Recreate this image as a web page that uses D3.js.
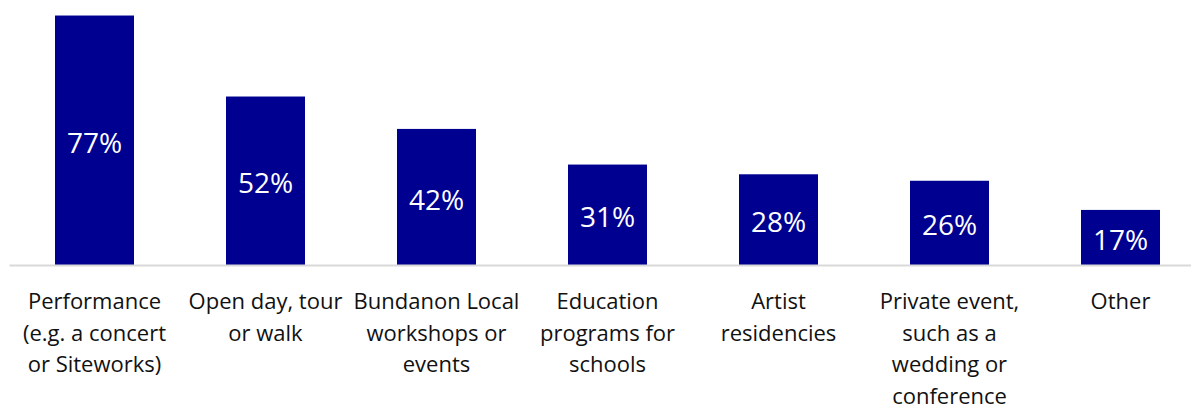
<!DOCTYPE html>
<html>
<head>
<meta charset="utf-8">
<script src="https://cdn.jsdelivr.net/npm/d3@7"></script>
<style>
  html, body { margin: 0; padding: 0; background: #fff; }
  svg { display: block; }
</style>
</head>
<body>
<svg id="chart" width="1191" height="405"></svg>
<script>
const categories = [
  "Performance (e.g. a concert or Siteworks)",
  "Open day, tour or walk",
  "Bundanon Local workshops or events",
  "Education programs for schools",
  "Artist residencies",
  "Private event, such as a wedding or conference",
  "Other"
];
const tickLines = [
  ["Performance", "(e.g. a concert", "or Siteworks)"],
  ["Open day, tour", "or walk"],
  ["Bundanon Local", "workshops or", "events"],
  ["Education", "programs for", "schools"],
  ["Artist", "residencies"],
  ["Private event,", "such as a", "wedding or", "conference"],
  ["Other"]
];
const values = [77, 52, 42, 31, 28, 26, 17];

const svg = d3.select("#chart");
const baseY = 265;
const x = d3.scaleBand().domain(categories).range([9, 1206]).paddingInner(0.538).paddingOuter(0.269);
const y = d3.scaleLinear().domain([0, 80]).range([baseY, baseY - 80 * 3.24]);

svg.selectAll("rect.bar").data(values).join("rect")
  .attr("class", "bar")
  .attr("x", (d, i) => x(categories[i]))
  .attr("y", d => y(d))
  .attr("width", x.bandwidth())
  .attr("height", d => y(0) - y(d))
  .attr("fill", "#000090");

svg.selectAll("text.val").data(values).join("text")
  .attr("class", "val")
  .attr("x", (d, i) => x(categories[i]) + x.bandwidth() / 2)
  .attr("y", d => (y(d) + y(0)) / 2)
  .attr("dy", "0.45em")
  .attr("text-anchor", "middle")
  .attr("font-family", "'Open Sans', sans-serif")
  .attr("font-size", 28)
  .attr("fill", "#fff")
  .text(d => d + "%");

// axis
const axis = d3.axisBottom(x).tickSize(0).tickFormat("");
const ag = svg.append("g").attr("transform", `translate(0,${baseY})`).call(axis);
ag.select(".domain").attr("stroke", "#d9d9d9").attr("stroke-width", 2);

const lab = svg.selectAll("text.cat").data(categories).join("text")
  .attr("class", "cat")
  .attr("text-anchor", "middle")
  .attr("font-family", "'Open Sans', sans-serif")
  .attr("font-size", 22)
  .attr("fill", "#111");
lab.each(function(d, i) {
  const cx = x(d) + x.bandwidth() / 2;
  d3.select(this).selectAll("tspan").data(tickLines[i]).join("tspan")
    .attr("x", cx)
    .attr("y", (t, j) => 309 + j * 31.7)
    .text(t => t);
});
</script>
</body>
</html>
